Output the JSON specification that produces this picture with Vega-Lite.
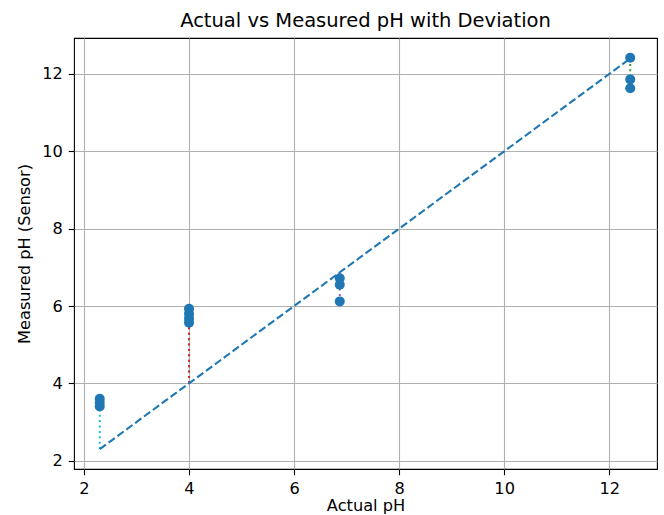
{
  "$schema": "https://vega.github.io/schema/vega-lite/v6.json",
  "autosize": {"type": "none"},
  "width": 583,
  "height": 431,
  "padding": {"left": 74, "top": 38, "right": 7, "bottom": 46},
  "background": "white",
  "config": {
    "font": "DejaVu Sans",
    "view": {"stroke": "black", "strokeWidth": 1.1},
    "axis": {
      "grid": true,
      "gridColor": "#b0b0b0",
      "gridWidth": 1.1,
      "domain": false,
      "tickColor": "black",
      "tickSize": 5.7,
      "tickWidth": 1.1,
      "labelPadding": 6,
      "labelFontSize": 16.2,
      "labelColor": "black",
      "labelFont": "DejaVu Sans",
      "titleFont": "DejaVu Sans",
      "titleFontSize": 16.2,
      "titleFontWeight": "normal",
      "titleColor": "black"
    }
  },
  "title": {
    "text": "Actual vs Measured pH with Deviation",
    "fontSize": 19.5,
    "fontWeight": "normal",
    "font": "DejaVu Sans",
    "color": "black",
    "anchor": "middle",
    "offset": 7
  },
  "datasets": {
    "ideal": [
      {"actual": 2.30, "measured": 2.30},
      {"actual": 12.40, "measured": 12.40}
    ],
    "devs": [
      {"sample": "a", "actual": 2.30, "ideal": 2.30, "measured": 3.40},
      {"sample": "b", "actual": 4.00, "ideal": 4.00, "measured": 5.93},
      {"sample": "c", "actual": 4.00, "ideal": 4.00, "measured": 5.68},
      {"sample": "d", "actual": 6.87, "ideal": 6.87, "measured": 6.12},
      {"sample": "e", "actual": 6.87, "ideal": 6.87, "measured": 6.72},
      {"sample": "f", "actual": 12.40, "ideal": 12.40, "measured": 11.63}
    ],
    "points": [
      {"actual": 2.30, "measured": 3.60},
      {"actual": 2.30, "measured": 3.50},
      {"actual": 2.30, "measured": 3.40},
      {"actual": 4.00, "measured": 5.93},
      {"actual": 4.00, "measured": 5.80},
      {"actual": 4.00, "measured": 5.68},
      {"actual": 4.00, "measured": 5.57},
      {"actual": 6.87, "measured": 6.72},
      {"actual": 6.87, "measured": 6.55},
      {"actual": 6.87, "measured": 6.12},
      {"actual": 12.40, "measured": 12.42},
      {"actual": 12.40, "measured": 11.86},
      {"actual": 12.40, "measured": 11.63}
    ]
  },
  "layer": [
    {
      "data": {"name": "devs"},
      "mark": {"type": "rule", "strokeDash": [2, 3.4], "strokeWidth": 2},
      "encoding": {
        "x": {"field": "actual", "type": "quantitative", "scale": {"domain": [1.81, 12.91], "nice": false, "zero": false}, "axis": {"title": "Actual pH", "values": [2, 4, 6, 8, 10, 12], "titlePadding": 1}},
        "y": {"field": "ideal", "type": "quantitative", "scale": {"domain": [1.786, 12.93], "nice": false, "zero": false}, "axis": {"title": "Measured pH (Sensor)", "values": [2, 4, 6, 8, 10, 12], "titlePadding": 9}},
        "y2": {"field": "measured"},
        "color": {"field": "sample", "type": "nominal", "legend": null, "scale": {"domain": ["a", "b", "c", "d", "e", "f"], "range": ["#17becf", "#2ca02c", "#d62728", "#9467bd", "#e377c2", "#2ca02c"]}}
      }
    },
    {
      "data": {"name": "ideal"},
      "mark": {"type": "line", "strokeDash": [7.7, 3.3], "strokeWidth": 2.1, "color": "#1f77b4"},
      "encoding": {
        "x": {"field": "actual", "type": "quantitative"},
        "y": {"field": "measured", "type": "quantitative"}
      }
    },
    {
      "data": {"name": "points"},
      "mark": {"type": "circle", "size": 100, "opacity": 1, "color": "#1f77b4"},
      "encoding": {
        "x": {"field": "actual", "type": "quantitative"},
        "y": {"field": "measured", "type": "quantitative"}
      }
    }
  ]
}
